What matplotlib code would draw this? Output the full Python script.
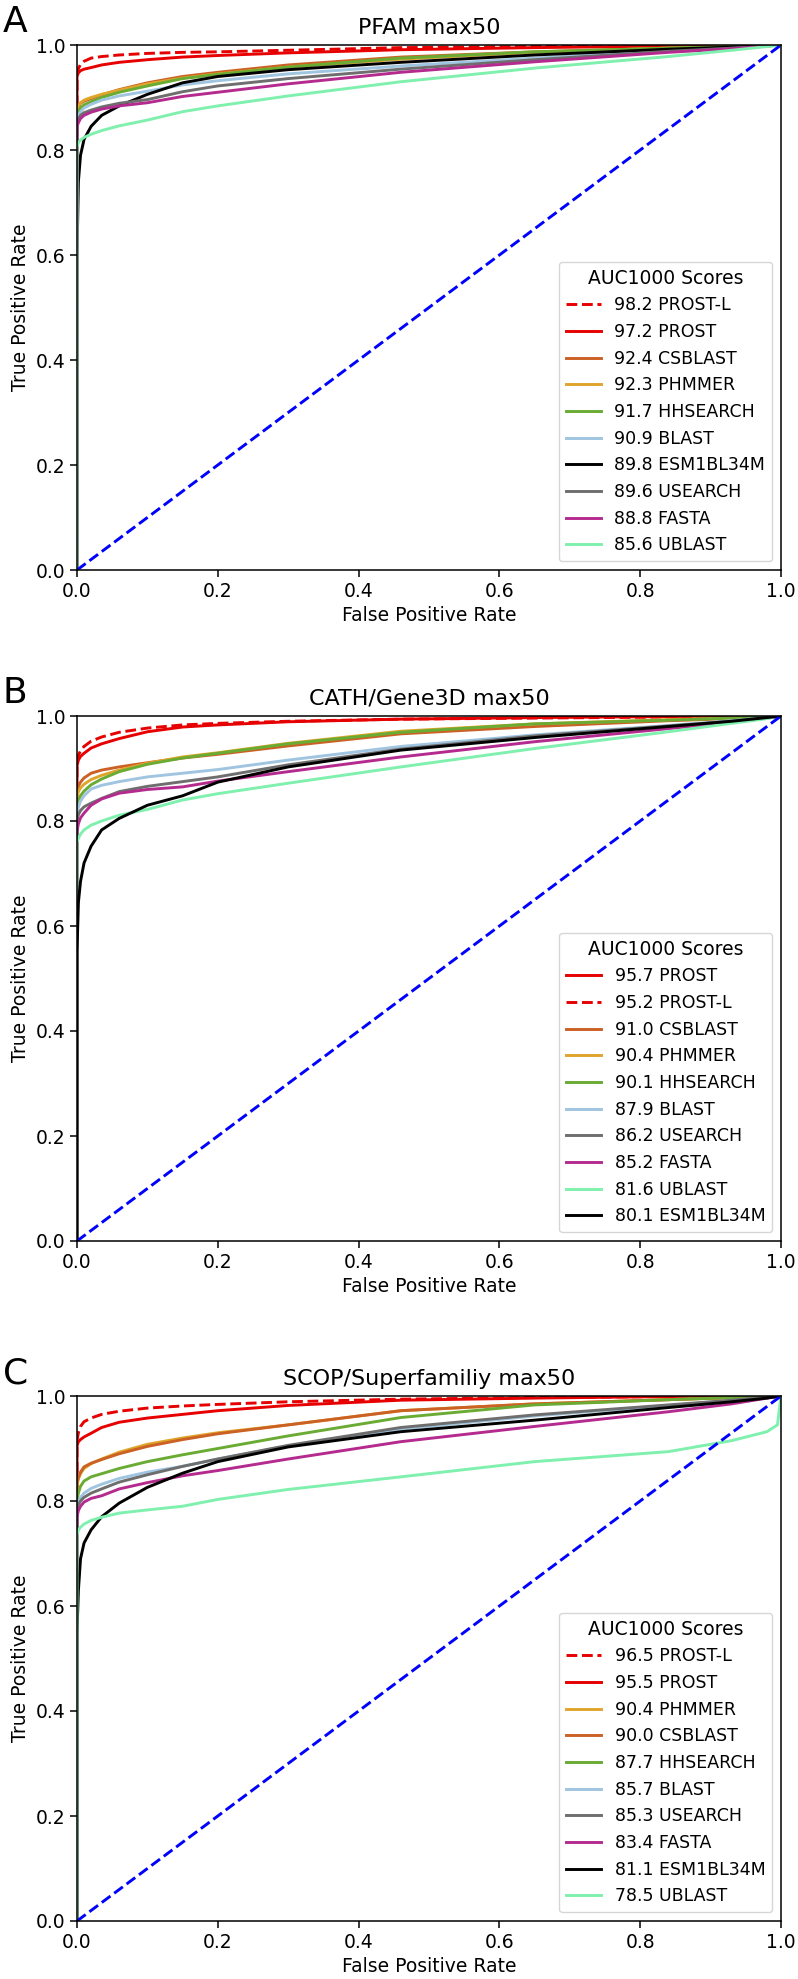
import matplotlib
matplotlib.use("Agg")
import matplotlib.pyplot as plt
import numpy as np

plt.rcParams['font.family'] = ['DejaVu Sans']

# Common FPR grid (curves additionally start at (0, 0))
fpr = [0, 0.002, 0.005, 0.01, 0.02, 0.035, 0.06, 0.1, 0.15, 0.2, 0.3, 0.46, 0.65, 0.84, 0.93, 0.98, 0.995, 1.0]

colors = {
    "PROST-L": "#e60000", "PROST": "#e60000", "CSBLAST": "#cc6125", "PHMMER": "#dfa52b",
    "HHSEARCH": "#6aab34", "BLAST": "#9fc5e0", "ESM1BL34M": "#000000", "USEARCH": "#6e6e6e",
    "FASTA": "#b52a8e", "UBLAST": "#7ff0ad",
}

# ---------------- Panel A: PFAM max50 ----------------
a_titles = "PFAM max50"
a_order = ["PROST-L", "PROST", "CSBLAST", "PHMMER", "HHSEARCH", "BLAST", "ESM1BL34M", "USEARCH", "FASTA", "UBLAST"]
a_auc = [98.2, 97.2, 92.4, 92.3, 91.7, 90.9, 89.8, 89.6, 88.8, 85.6]
a_prost_l = [0.943, 0.955, 0.963, 0.969, 0.975, 0.978, 0.981, 0.984, 0.986, 0.987, 0.990, 0.995, 0.997, 0.999, 0.999, 1.0, 1.0, 1.0]
a_prost = [0.940, 0.947, 0.951, 0.954, 0.957, 0.962, 0.967, 0.972, 0.977, 0.980, 0.985, 0.991, 0.995, 0.998, 0.999, 1.0, 1.0, 1.0]
a_csblast = [0.872, 0.882, 0.889, 0.893, 0.898, 0.905, 0.915, 0.928, 0.940, 0.948, 0.962, 0.977, 0.987, 0.994, 0.997, 0.999, 1.0, 1.0]
a_phmmer = [0.875, 0.884, 0.890, 0.895, 0.900, 0.906, 0.914, 0.926, 0.937, 0.945, 0.958, 0.973, 0.986, 0.994, 0.997, 0.999, 1.0, 1.0]
a_hhsearch = [0.865, 0.873, 0.880, 0.886, 0.892, 0.900, 0.910, 0.922, 0.936, 0.944, 0.958, 0.975, 0.987, 0.994, 0.997, 0.999, 1.0, 1.0]
a_blast = [0.855, 0.866, 0.873, 0.880, 0.887, 0.895, 0.903, 0.912, 0.924, 0.932, 0.945, 0.960, 0.975, 0.989, 0.995, 0.998, 1.0, 1.0]
a_esm = [0.60, 0.74, 0.79, 0.82, 0.845, 0.866, 0.884, 0.906, 0.928, 0.940, 0.953, 0.967, 0.981, 0.992, 0.996, 0.999, 1.0, 1.0]
a_usearch = [0.852, 0.860, 0.866, 0.871, 0.876, 0.882, 0.889, 0.896, 0.911, 0.922, 0.936, 0.954, 0.972, 0.988, 0.994, 0.998, 1.0, 1.0]
a_fasta = [0.845, 0.852, 0.860, 0.866, 0.872, 0.878, 0.884, 0.890, 0.902, 0.910, 0.926, 0.948, 0.968, 0.986, 0.993, 0.998, 1.0, 1.0]
a_ublast = [0.805, 0.814, 0.819, 0.824, 0.830, 0.837, 0.846, 0.857, 0.873, 0.884, 0.903, 0.930, 0.956, 0.978, 0.990, 0.997, 0.999, 1.0]

# ---------------- Panel B: CATH/Gene3D max50 ----------------
b_titles = "CATH/Gene3D max50"
b_order = ["PROST", "PROST-L", "CSBLAST", "PHMMER", "HHSEARCH", "BLAST", "USEARCH", "FASTA", "UBLAST", "ESM1BL34M"]
b_auc = [95.7, 95.2, 91.0, 90.4, 90.1, 87.9, 86.2, 85.2, 81.6, 80.1]
b_prost = [0.905, 0.916, 0.923, 0.929, 0.939, 0.947, 0.957, 0.970, 0.979, 0.983, 0.989, 0.994, 0.997, 0.999, 1.0, 1.0, 1.0, 1.0]
b_prost_l = [0.915, 0.925, 0.934, 0.942, 0.952, 0.960, 0.969, 0.977, 0.983, 0.986, 0.990, 0.994, 0.996, 0.998, 0.999, 1.0, 1.0, 1.0]
b_csblast = [0.855, 0.866, 0.874, 0.882, 0.891, 0.897, 0.903, 0.911, 0.920, 0.927, 0.943, 0.966, 0.980, 0.991, 0.995, 0.998, 0.999, 1.0]
b_phmmer = [0.845, 0.856, 0.863, 0.870, 0.879, 0.887, 0.897, 0.910, 0.922, 0.930, 0.948, 0.971, 0.985, 0.993, 0.996, 0.999, 1.0, 1.0]
b_hhsearch = [0.825, 0.838, 0.848, 0.857, 0.869, 0.880, 0.894, 0.908, 0.920, 0.929, 0.947, 0.969, 0.985, 0.992, 0.996, 0.999, 1.0, 1.0]
b_blast = [0.815, 0.826, 0.838, 0.848, 0.861, 0.868, 0.875, 0.884, 0.891, 0.898, 0.916, 0.942, 0.964, 0.982, 0.991, 0.997, 0.999, 1.0]
b_usearch = [0.800, 0.812, 0.820, 0.827, 0.834, 0.843, 0.856, 0.866, 0.875, 0.884, 0.907, 0.937, 0.962, 0.981, 0.990, 0.997, 0.999, 1.0]
b_fasta = [0.780, 0.795, 0.806, 0.815, 0.830, 0.842, 0.853, 0.860, 0.865, 0.876, 0.894, 0.922, 0.951, 0.976, 0.988, 0.996, 0.999, 1.0]
b_ublast = [0.760, 0.767, 0.775, 0.783, 0.792, 0.800, 0.811, 0.822, 0.840, 0.852, 0.872, 0.903, 0.938, 0.970, 0.986, 0.995, 0.999, 1.0]
b_esm = [0.55, 0.645, 0.685, 0.720, 0.752, 0.783, 0.805, 0.830, 0.848, 0.874, 0.903, 0.935, 0.959, 0.980, 0.990, 0.997, 0.999, 1.0]

# ---------------- Panel C: SCOP/Superfamiliy max50 ----------------
c_titles = "SCOP/Superfamiliy max50"
c_order = ["PROST-L", "PROST", "PHMMER", "CSBLAST", "HHSEARCH", "BLAST", "USEARCH", "FASTA", "ESM1BL34M", "UBLAST"]
c_auc = [96.5, 95.5, 90.4, 90.0, 87.7, 85.7, 85.3, 83.4, 81.1, 78.5]
c_prost_l = [0.915, 0.930, 0.942, 0.951, 0.958, 0.965, 0.971, 0.977, 0.981, 0.984, 0.989, 0.994, 0.997, 0.999, 1.0, 1.0, 1.0, 1.0]
c_prost = [0.905, 0.913, 0.917, 0.922, 0.929, 0.940, 0.950, 0.958, 0.965, 0.972, 0.982, 0.992, 0.996, 0.999, 1.0, 1.0, 1.0, 1.0]
c_phmmer = [0.830, 0.842, 0.852, 0.862, 0.871, 0.880, 0.893, 0.908, 0.920, 0.930, 0.945, 0.972, 0.985, 0.993, 0.997, 0.999, 1.0, 1.0]
c_csblast = [0.835, 0.845, 0.855, 0.865, 0.872, 0.879, 0.890, 0.904, 0.917, 0.928, 0.945, 0.972, 0.985, 0.993, 0.997, 0.999, 1.0, 1.0]
c_hhsearch = [0.800, 0.815, 0.828, 0.838, 0.846, 0.852, 0.862, 0.875, 0.888, 0.900, 0.924, 0.959, 0.983, 0.993, 0.997, 0.999, 1.0, 1.0]
c_blast = [0.785, 0.797, 0.807, 0.815, 0.824, 0.832, 0.843, 0.855, 0.866, 0.880, 0.905, 0.937, 0.962, 0.982, 0.991, 0.997, 0.999, 1.0]
c_usearch = [0.785, 0.793, 0.800, 0.807, 0.815, 0.823, 0.836, 0.850, 0.866, 0.880, 0.906, 0.940, 0.964, 0.983, 0.992, 0.998, 0.999, 1.0]
c_fasta = [0.770, 0.782, 0.790, 0.798, 0.805, 0.810, 0.823, 0.835, 0.848, 0.858, 0.880, 0.913, 0.942, 0.970, 0.985, 0.996, 0.999, 1.0]
c_esm = [0.55, 0.63, 0.69, 0.720, 0.745, 0.770, 0.796, 0.826, 0.853, 0.875, 0.903, 0.932, 0.954, 0.978, 0.989, 0.996, 0.999, 1.0]
c_ublast = [0.735, 0.745, 0.750, 0.756, 0.763, 0.769, 0.777, 0.783, 0.790, 0.803, 0.822, 0.846, 0.875, 0.894, 0.915, 0.932, 0.945, 1.0]

panels = [
    ("A", a_titles, a_order, a_auc, {"PROST-L": a_prost_l, "PROST": a_prost, "CSBLAST": a_csblast,
        "PHMMER": a_phmmer, "HHSEARCH": a_hhsearch, "BLAST": a_blast, "ESM1BL34M": a_esm,
        "USEARCH": a_usearch, "FASTA": a_fasta, "UBLAST": a_ublast}),
    ("B", b_titles, b_order, b_auc, {"PROST-L": b_prost_l, "PROST": b_prost, "CSBLAST": b_csblast,
        "PHMMER": b_phmmer, "HHSEARCH": b_hhsearch, "BLAST": b_blast, "ESM1BL34M": b_esm,
        "USEARCH": b_usearch, "FASTA": b_fasta, "UBLAST": b_ublast}),
    ("C", c_titles, c_order, c_auc, {"PROST-L": c_prost_l, "PROST": c_prost, "CSBLAST": c_csblast,
        "PHMMER": c_phmmer, "HHSEARCH": c_hhsearch, "BLAST": c_blast, "ESM1BL34M": c_esm,
        "USEARCH": c_usearch, "FASTA": c_fasta, "UBLAST": c_ublast}),
]

W, H = 798, 1979
fig = plt.figure(figsize=(W / 100, H / 100), dpi=100)

ax_left, ax_right = 77, 781
tops = [45, 716, 1396]
ax_h = 525

for (letter, title, order, auc, curves), top in zip(panels, tops):
    ax = fig.add_axes([ax_left / W, 1 - (top + ax_h) / H, (ax_right - ax_left) / W, ax_h / H])
    for name, score in zip(order, auc):
        x = [0.0] + fpr
        y = [0.0] + curves[name]
        ls = "--" if name == "PROST-L" else "-"
        ax.plot(x, y, color=colors[name], lw=2.1, ls=ls, label=f"{score:.1f} {name}")
    ax.plot([0, 1], [0, 1], color="#0000ff", lw=2.1, ls="--")
    ax.set_xlim(0, 1)
    ax.set_ylim(0, 1)
    ax.set_xticks([0, 0.2, 0.4, 0.6, 0.8, 1.0])
    ax.set_yticks([0, 0.2, 0.4, 0.6, 0.8, 1.0])
    ax.tick_params(labelsize=13.5, length=5, width=1.1)
    for s in ax.spines.values():
        s.set_linewidth(1.1)
    ax.set_xlabel("False Positive Rate", fontsize=13.5)
    ax.set_ylabel("True Positive Rate", fontsize=13.5)
    ax.set_title(title, fontsize=16, pad=8)
    leg = ax.legend(title="AUC1000 Scores", loc="lower right", fontsize=12.5, title_fontsize=13.5)
    fig.text(3 / W, 1 - (top - 13) / H, letter, fontsize=26, va="baseline", ha="left")

fig.savefig("out.png", dpi=100)
